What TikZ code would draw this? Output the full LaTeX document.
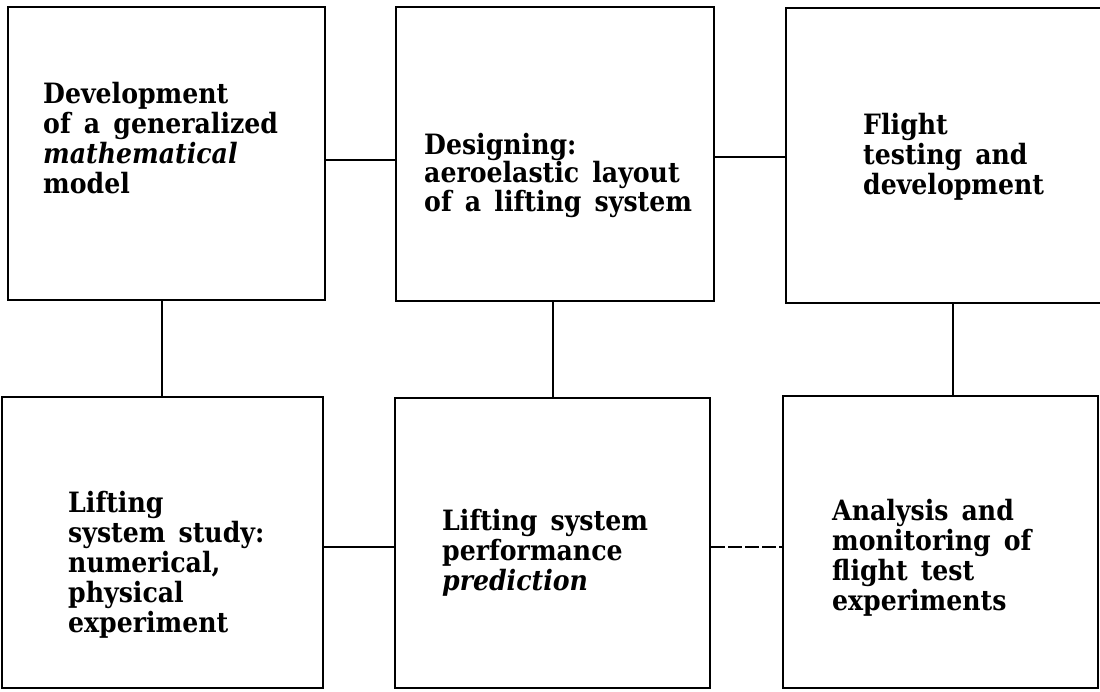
\documentclass[tikz,border=0pt]{standalone}
\usepackage{fontspec}
\setmainfont[WordSpace=1.5]{DejaVu Serif Condensed}
\begin{document}
\begin{tikzpicture}[x=1pt,y=-1pt,
  boxst/.style={draw=black,line width=2.5pt,fill=none,inner sep=0pt},
  link/.style={draw=black,line width=1.8pt},
  txt/.style={anchor=base west,inner sep=0pt,align=left,font=\bfseries\fontsize{28}{30}\selectfont}]
\useasboundingbox (0,0) rectangle (1100,691);
\clip (0,0) rectangle (1100,691);
% boxes
\node[boxst,minimum width=317pt,minimum height=293pt] (b1) at (166.5,153.5) {};
\node[boxst,minimum width=318pt,minimum height=294pt] (b2) at (555,154) {};
\node[boxst,minimum width=318pt,minimum height=295pt] (b3) at (945,155.5) {};
\node[boxst,minimum width=321pt,minimum height=291pt] (b4) at (162.5,542.5) {};
\node[boxst,minimum width=315pt,minimum height=290pt] (b5) at (552.5,543) {};
\node[boxst,minimum width=315pt,minimum height=292pt] (b6) at (940.5,542) {};
% texts (anchored at the baseline of the last line)
\node[txt] (t1) at (43,193) {Development\\of a generalized\\\textit{mathematical}\\model};
\node[txt,font=\bfseries\fontsize{28}{27}\selectfont] (t2) at (424,211) {Designing:\\aeroelastic layout\\of a lifting system};
\node[txt] (t3) at (863,194) {Flight\\testing and\\development};
\node[txt] (t4) at (68,632) {Lifting\\system study:\\numerical,\\physical\\experiment};
\node[txt] (t5) at (442,590) {Lifting system\\performance\\\textit{prediction}};
\node[txt] (t6) at (832,610) {Analysis and\\monitoring of\\flight test\\experiments};
% connectors
\draw[link] (b1.east |- 0,160) -- (b2.west |- 0,160);
\draw[link] (b2.east |- 0,157) -- (b3.west |- 0,157);
\draw[link] (b1.south -| 162,0) -- (b4.north -| 162,0);
\draw[link] (b2.south -| 553,0) -- (b5.north -| 553,0);
\draw[link] (b3.south -| 953,0) -- (b6.north -| 953,0);
\draw[link] (b4.east |- 0,547) -- (b5.west |- 0,547);
\draw[link,dash pattern=on 14pt off 3pt] (b5.east |- 0,547) -- (b6.west |- 0,547);
\end{tikzpicture}
\end{document}
